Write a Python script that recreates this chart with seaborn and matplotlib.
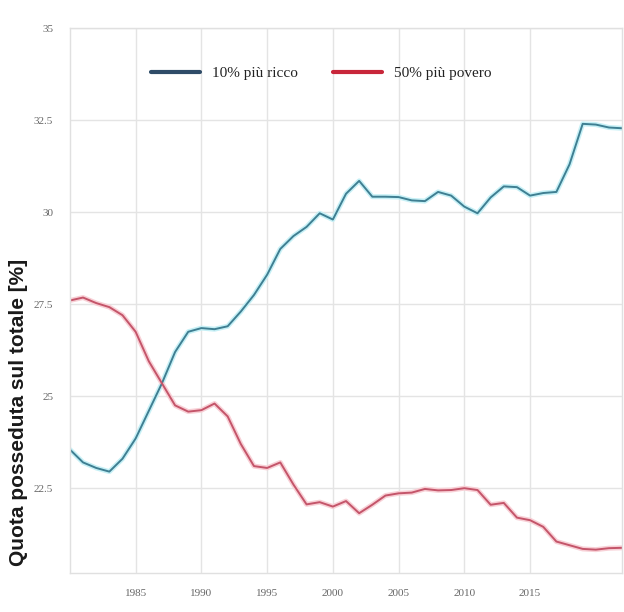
import numpy as np
import pandas as pd
import matplotlib
matplotlib.use("Agg")
import matplotlib.pyplot as plt
from matplotlib.lines import Line2D
import seaborn as sns

years = list(range(1980, 2023))
ricco = [23.55, 23.2, 23.05, 22.95, 23.3, 23.85, 24.6, 25.35, 26.2, 26.75,
         26.85, 26.82, 26.9, 27.3, 27.75, 28.3, 29.0, 29.35, 29.6, 29.97,
         29.8, 30.5, 30.85, 30.42, 30.42, 30.41, 30.32, 30.3, 30.55, 30.45,
         30.15, 29.97, 30.4, 30.7, 30.68, 30.45, 30.52, 30.55, 31.3, 32.4,
         32.38, 32.3, 32.28]
povero = [27.6, 27.68, 27.53, 27.42, 27.2, 26.75, 25.95, 25.35, 24.75, 24.58,
          24.62, 24.8, 24.45, 23.7, 23.1, 23.05, 23.2, 22.6, 22.06, 22.12,
          22.0, 22.15, 21.82, 22.05, 22.3, 22.36, 22.38, 22.48, 22.44, 22.45,
          22.5, 22.45, 22.05, 22.1, 21.7, 21.63, 21.45, 21.05, 20.95, 20.85,
          20.83, 20.87, 20.88]
series_names = ["10% più ricco", "50% più povero"]
xticks = [1985, 1990, 1995, 2000, 2005, 2010, 2015]
yticks = [22.5, 25, 27.5, 30, 32.5, 35]
ylabel = "Quota posseduta sul totale [%]"

df = pd.DataFrame({
    "anno": years * 2,
    "quota": ricco + povero,
    "serie": [series_names[0]] * len(years) + [series_names[1]] * len(years),
})

sns.set_theme(style="whitegrid")
fig = plt.figure(figsize=(6.24, 6.12), dpi=100)
ax = fig.add_axes([0.112, 0.064, 0.885, 0.89])

line_cols = {series_names[0]: "#3f7f92", series_names[1]: "#c4556a"}
halo_cols = {series_names[0]: "#c6f0f6", series_names[1]: "#f8d0d6"}
# soft halo
sns.lineplot(data=df, x="anno", y="quota", hue="serie", palette=halo_cols,
             linewidth=3.6, legend=False, ax=ax)
sns.lineplot(data=df, x="anno", y="quota", hue="serie", palette=line_cols,
             linewidth=1.4, legend=False, ax=ax)

ax.set_xlim(1980, 2022)
ax.set_ylim(20.2, 35)
ax.set_xticks(xticks)
ax.set_xticklabels([str(t) for t in xticks])
ax.set_yticks(yticks)
ax.set_yticklabels(["22.5", "25", "27.5", "30", "32.5", "35"])
ax.tick_params(axis="both", length=0, labelsize=8, colors="#666666", pad=12)
for lab in ax.get_xticklabels() + ax.get_yticklabels():
    lab.set_family("Liberation Serif")
ax.grid(True, color="#e4e4e4", linewidth=1)
for sp in ax.spines.values():
    sp.set_color("#e0e0e0")
    sp.set_linewidth(1)

ax.set_xlabel("")
ax.set_ylabel(ylabel, fontsize=15, fontweight="bold", family="Liberation Sans",
              color="#1a1a1a")
ax.yaxis.set_label_coords(-0.076, 0.295)

handles = [Line2D([0], [0], color="#2f4c68", lw=3),
           Line2D([0], [0], color="#c8263a", lw=3)]
leg = ax.legend(handles, series_names, loc="upper center",
                bbox_to_anchor=(0.455, 0.955), ncol=2, frameon=False,
                handlelength=3.2, columnspacing=2.3,
                prop={"family": "Liberation Serif", "size": 11})
for t in leg.get_texts():
    t.set_color("#222222")

fig.savefig("out.png", dpi=100)
